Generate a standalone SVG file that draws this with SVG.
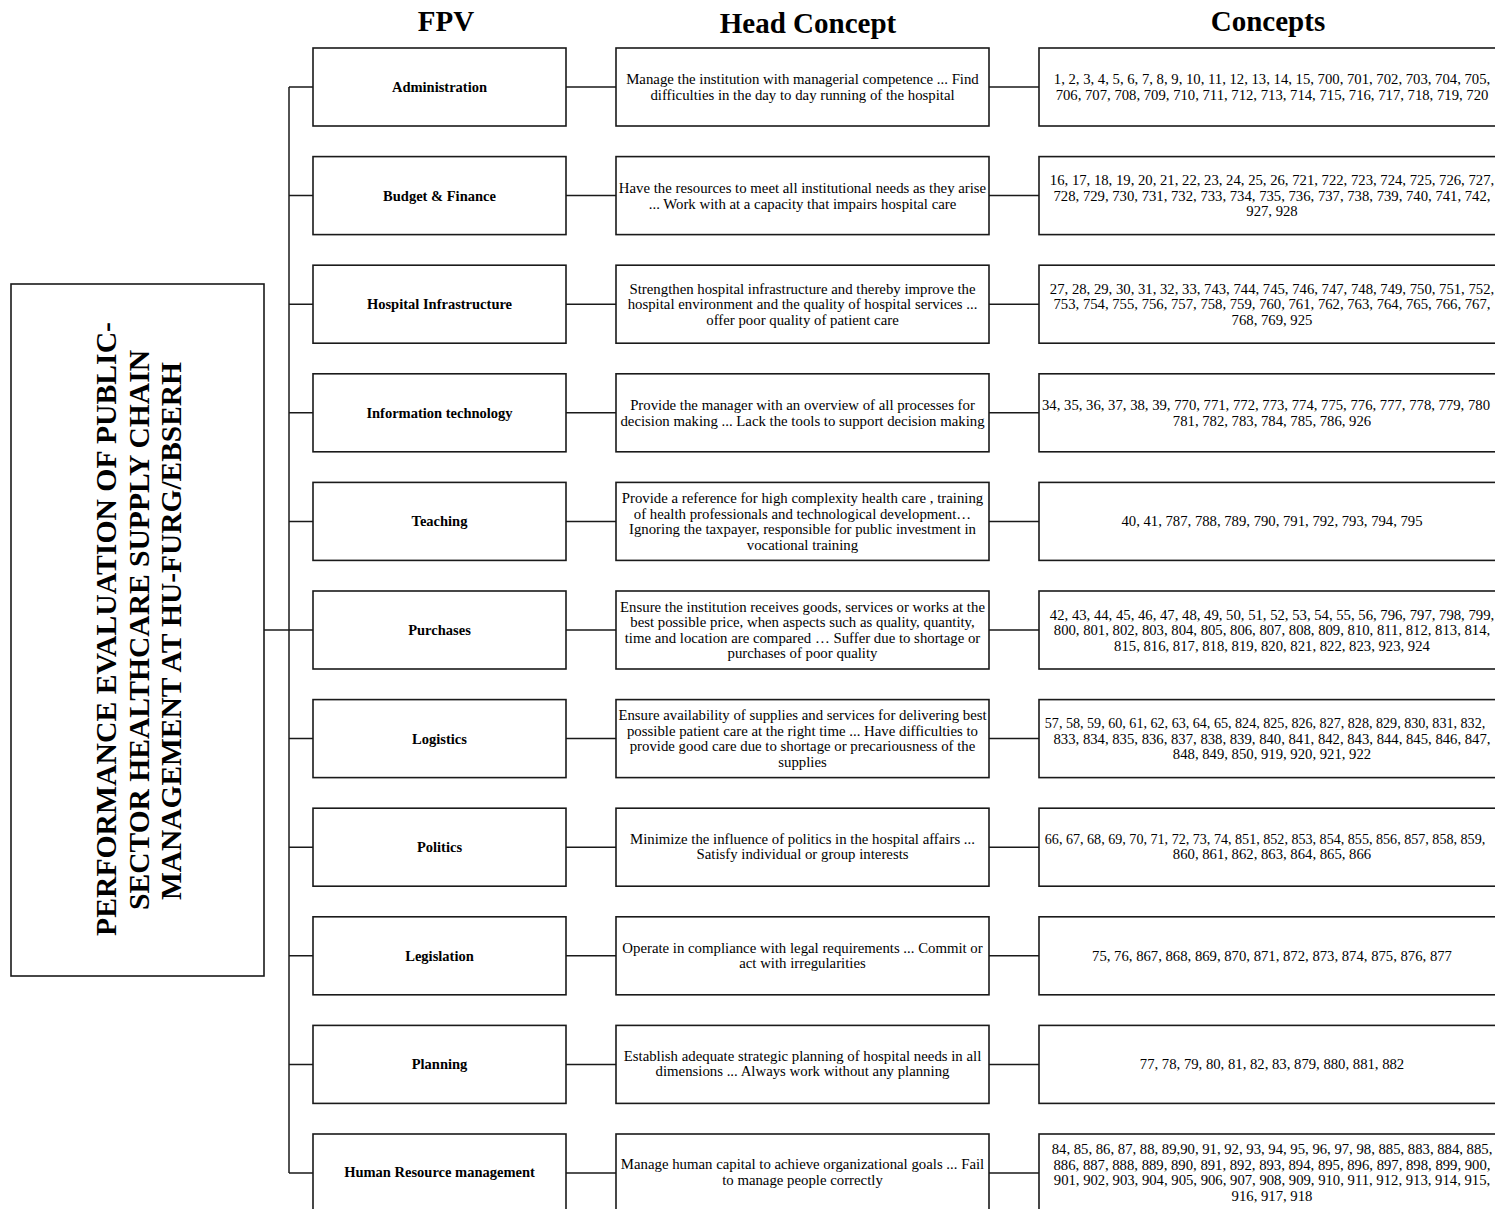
<svg xmlns="http://www.w3.org/2000/svg" width="1495" height="1209" viewBox="0 0 1495 1209">
  <style>
    .box { fill: #ffffff; stroke: #1a1a1a; stroke-width: 1.6; }
    .wire { fill: none; stroke: #1a1a1a; stroke-width: 1.5; }
    .hdr { font-family: "Liberation Serif", "Times New Roman", serif; font-weight: bold; font-size: 29px; fill: #000; text-anchor: middle; }
    .title { font-family: "Liberation Serif", "Times New Roman", serif; font-weight: bold; font-size: 29px; fill: #000; text-anchor: middle; }
    .fpv { font-family: "Liberation Serif", "Times New Roman", serif; font-weight: bold; font-size: 14.5px; fill: #000; text-anchor: middle; }
    .hc { font-family: "Liberation Serif", "Times New Roman", serif; font-size: 14.8px; fill: #000; text-anchor: middle; }
    .cc { font-family: "Liberation Serif", "Times New Roman", serif; font-size: 14.7px; fill: #000; text-anchor: middle; }
    .cc.tight { font-size: 14.1px; }
  </style>
  <rect width="1495" height="1209" fill="#ffffff"/>

  <!-- column headings -->
  <g id="headings">
    <text class="hdr" x="446" y="31">FPV</text>
    <text class="hdr" x="808" y="33">Head Concept</text>
    <text class="hdr" x="1268" y="31">Concepts</text>
  </g>

  <!-- connectors: trunk, branches and row links -->
  <g id="connectors">
    <line class="wire" x1="264" y1="630" x2="289" y2="630" stroke-width="2.2"/>
    <line class="wire" x1="289" y1="87" x2="289" y2="1173"/>
    <path class="wire" d="M289 87H313M289 195.6H313M289 304.2H313M289 412.8H313M289 521.4H313M289 630H313M289 738.6H313M289 847.2H313M289 955.8H313M289 1064.4H313M289 1173H313"/>
    <path class="wire" d="M566 87H616M566 195.6H616M566 304.2H616M566 412.8H616M566 521.4H616M566 630H616M566 738.6H616M566 847.2H616M566 955.8H616M566 1064.4H616M566 1173H616"/>
    <path class="wire" d="M989 87H1039M989 195.6H1039M989 304.2H1039M989 412.8H1039M989 521.4H1039M989 630H1039M989 738.6H1039M989 847.2H1039M989 955.8H1039M989 1064.4H1039M989 1173H1039"/>
  </g>

  <!-- root node -->
  <g id="root">
    <rect class="box" x="11" y="284" width="253" height="692"/>
    <text class="title" transform="translate(116,629) rotate(-90)" textLength="614" lengthAdjust="spacingAndGlyphs">PERFORMANCE EVALUATION OF PUBLIC-</text>
    <text class="title" transform="translate(149,630) rotate(-90)" textLength="560" lengthAdjust="spacingAndGlyphs">SECTOR HEALTHCARE SUPPLY CHAIN</text>
    <text class="title" transform="translate(181,631) rotate(-90)" textLength="538" lengthAdjust="spacingAndGlyphs">MANAGEMENT AT HU-FURG/EBSERH</text>
  </g>

  <!-- row 1 -->
  <g id="fpv-administration">
    <rect class="box" x="313" y="48" width="253" height="78"/>
    <text class="fpv" x="439.5" y="92">Administration</text>
  </g>
  <g id="hc-administration">
    <rect class="box" x="616" y="48" width="373" height="78"/>
    <text class="hc" x="802.5" y="84">Manage the institution with managerial competence ... Find</text>
    <text class="hc" x="802.5" y="100">difficulties in the day to day running of the hospital</text>
  </g>
  <g id="cc-administration">
    <rect class="box" x="1039" y="48" width="466" height="78"/>
    <text class="cc" x="1272" y="84">1, 2, 3, 4, 5, 6, 7, 8, 9, 10, 11, 12, 13, 14, 15, 700, 701, 702, 703, 704, 705,</text>
    <text class="cc" x="1272" y="100">706, 707, 708, 709, 710, 711, 712, 713, 714, 715, 716, 717, 718, 719, 720</text>
  </g>

  <!-- row 2 -->
  <g id="fpv-budget">
    <rect class="box" x="313" y="156.6" width="253" height="78"/>
    <text class="fpv" x="439.5" y="200.6">Budget &amp; Finance</text>
  </g>
  <g id="hc-budget">
    <rect class="box" x="616" y="156.6" width="373" height="78"/>
    <text class="hc" x="802.5" y="192.6">Have the resources to meet all institutional needs as they arise</text>
    <text class="hc" x="802.5" y="208.6">... Work with at a capacity that impairs hospital care</text>
  </g>
  <g id="cc-budget">
    <rect class="box" x="1039" y="156.6" width="466" height="78"/>
    <text class="cc" x="1272" y="185">16, 17, 18, 19, 20, 21, 22, 23, 24, 25, 26, 721, 722, 723, 724, 725, 726, 727,</text>
    <text class="cc" x="1272" y="200.5">728, 729, 730, 731, 732, 733, 734, 735, 736, 737, 738, 739, 740, 741, 742,</text>
    <text class="cc" x="1272" y="216">927, 928</text>
  </g>

  <!-- row 3 -->
  <g id="fpv-infrastructure">
    <rect class="box" x="313" y="265.2" width="253" height="78"/>
    <text class="fpv" x="439.5" y="309.2">Hospital Infrastructure</text>
  </g>
  <g id="hc-infrastructure">
    <rect class="box" x="616" y="265.2" width="373" height="78"/>
    <text class="hc" x="802.5" y="293.7">Strengthen hospital infrastructure and thereby improve the</text>
    <text class="hc" x="802.5" y="309.2">hospital environment and the quality of hospital services ...</text>
    <text class="hc" x="802.5" y="324.7">offer poor quality of patient care</text>
  </g>
  <g id="cc-infrastructure">
    <rect class="box" x="1039" y="265.2" width="466" height="78"/>
    <text class="cc" x="1272" y="293.7">27, 28, 29, 30, 31, 32, 33, 743, 744, 745, 746, 747, 748, 749, 750, 751, 752,</text>
    <text class="cc" x="1272" y="309.2">753, 754, 755, 756, 757, 758, 759, 760, 761, 762, 763, 764, 765, 766, 767,</text>
    <text class="cc" x="1272" y="324.7">768, 769, 925</text>
  </g>

  <!-- row 4 -->
  <g id="fpv-it">
    <rect class="box" x="313" y="373.8" width="253" height="78"/>
    <text class="fpv" x="439.5" y="417.8">Information technology</text>
  </g>
  <g id="hc-it">
    <rect class="box" x="616" y="373.8" width="373" height="78"/>
    <text class="hc" x="802.5" y="410">Provide the manager with an overview of all processes for</text>
    <text class="hc" x="802.5" y="425.5">decision making ... Lack the tools to support decision making</text>
  </g>
  <g id="cc-it">
    <rect class="box" x="1039" y="373.8" width="466" height="78"/>
    <text class="cc" x="1266" y="410">34, 35, 36, 37, 38, 39, 770, 771, 772, 773, 774, 775, 776, 777, 778, 779, 780</text>
    <text class="cc" x="1272" y="425.5">781, 782, 783, 784, 785, 786, 926</text>
  </g>

  <!-- row 5 -->
  <g id="fpv-teaching">
    <rect class="box" x="313" y="482.4" width="253" height="78"/>
    <text class="fpv" x="439.5" y="526.4">Teaching</text>
  </g>
  <g id="hc-teaching">
    <rect class="box" x="616" y="482.4" width="373" height="78"/>
    <text class="hc" x="802.5" y="503">Provide a reference for high complexity health care , training</text>
    <text class="hc" x="802.5" y="518.5">of health professionals and technological development…</text>
    <text class="hc" x="802.5" y="534">Ignoring the taxpayer, responsible for public investment in</text>
    <text class="hc" x="802.5" y="549.5">vocational training</text>
  </g>
  <g id="cc-teaching">
    <rect class="box" x="1039" y="482.4" width="466" height="78"/>
    <text class="cc" x="1272" y="526.4">40, 41, 787, 788, 789, 790, 791, 792, 793, 794, 795</text>
  </g>

  <!-- row 6 -->
  <g id="fpv-purchases">
    <rect class="box" x="313" y="591" width="253" height="78"/>
    <text class="fpv" x="439.5" y="635">Purchases</text>
  </g>
  <g id="hc-purchases">
    <rect class="box" x="616" y="591" width="373" height="78"/>
    <text class="hc" x="802.5" y="611.6">Ensure the institution receives goods, services or works at the</text>
    <text class="hc" x="802.5" y="627.1">best possible price, when aspects such as quality, quantity,</text>
    <text class="hc" x="802.5" y="642.6">time and location are compared … Suffer due to shortage or</text>
    <text class="hc" x="802.5" y="658.1">purchases of poor quality</text>
  </g>
  <g id="cc-purchases">
    <rect class="box" x="1039" y="591" width="466" height="78"/>
    <text class="cc" x="1272" y="619.5">42, 43, 44, 45, 46, 47, 48, 49, 50, 51, 52, 53, 54, 55, 56, 796, 797, 798, 799,</text>
    <text class="cc" x="1272" y="635">800, 801, 802, 803, 804, 805, 806, 807, 808, 809, 810, 811, 812, 813, 814,</text>
    <text class="cc" x="1272" y="650.5">815, 816, 817, 818, 819, 820, 821, 822, 823, 923, 924</text>
  </g>

  <!-- row 7 -->
  <g id="fpv-logistics">
    <rect class="box" x="313" y="699.6" width="253" height="78"/>
    <text class="fpv" x="439.5" y="743.6">Logistics</text>
  </g>
  <g id="hc-logistics">
    <rect class="box" x="616" y="699.6" width="373" height="78"/>
    <text class="hc" x="802.5" y="720.2">Ensure availability of supplies and services for delivering best</text>
    <text class="hc" x="802.5" y="735.7">possible patient care at the right time ... Have difficulties to</text>
    <text class="hc" x="802.5" y="751.2">provide good care due to shortage or precariousness of the</text>
    <text class="hc" x="802.5" y="766.7">supplies</text>
  </g>
  <g id="cc-logistics">
    <rect class="box" x="1039" y="699.6" width="466" height="78"/>
    <text class="cc tight" x="1265" y="728.1">57, 58, 59, 60, 61, 62, 63, 64, 65, 824, 825, 826, 827, 828, 829, 830, 831, 832,</text>
    <text class="cc" x="1272" y="743.6">833, 834, 835, 836, 837, 838, 839, 840, 841, 842, 843, 844, 845, 846, 847,</text>
    <text class="cc" x="1272" y="759.1">848, 849, 850, 919, 920, 921, 922</text>
  </g>

  <!-- row 8 -->
  <g id="fpv-politics">
    <rect class="box" x="313" y="808.2" width="253" height="78"/>
    <text class="fpv" x="439.5" y="852.2">Politics</text>
  </g>
  <g id="hc-politics">
    <rect class="box" x="616" y="808.2" width="373" height="78"/>
    <text class="hc" x="802.5" y="843.5">Minimize the influence of politics in the hospital affairs ...</text>
    <text class="hc" x="802.5" y="859">Satisfy individual or group interests</text>
  </g>
  <g id="cc-politics">
    <rect class="box" x="1039" y="808.2" width="466" height="78"/>
    <text class="cc tight" x="1265" y="843.5">66, 67, 68, 69, 70, 71, 72, 73, 74, 851, 852, 853, 854, 855, 856, 857, 858, 859,</text>
    <text class="cc" x="1272" y="859">860, 861, 862, 863, 864, 865, 866</text>
  </g>

  <!-- row 9 -->
  <g id="fpv-legislation">
    <rect class="box" x="313" y="916.8" width="253" height="78"/>
    <text class="fpv" x="439.5" y="960.8">Legislation</text>
  </g>
  <g id="hc-legislation">
    <rect class="box" x="616" y="916.8" width="373" height="78"/>
    <text class="hc" x="802.5" y="952.5">Operate in compliance with legal requirements ... Commit or</text>
    <text class="hc" x="802.5" y="968">act with irregularities</text>
  </g>
  <g id="cc-legislation">
    <rect class="box" x="1039" y="916.8" width="466" height="78"/>
    <text class="cc" x="1272" y="960.8">75, 76, 867, 868, 869, 870, 871, 872, 873, 874, 875, 876, 877</text>
  </g>

  <!-- row 10 -->
  <g id="fpv-planning">
    <rect class="box" x="313" y="1025.4" width="253" height="78"/>
    <text class="fpv" x="439.5" y="1069.4">Planning</text>
  </g>
  <g id="hc-planning">
    <rect class="box" x="616" y="1025.4" width="373" height="78"/>
    <text class="hc" x="802.5" y="1060.5">Establish adequate strategic planning of hospital needs in all</text>
    <text class="hc" x="802.5" y="1076">dimensions ... Always work without any planning</text>
  </g>
  <g id="cc-planning">
    <rect class="box" x="1039" y="1025.4" width="466" height="78"/>
    <text class="cc" x="1272" y="1069.4">77, 78, 79, 80, 81, 82, 83, 879, 880, 881, 882</text>
  </g>

  <!-- row 11 -->
  <g id="fpv-hr">
    <rect class="box" x="313" y="1134" width="253" height="78"/>
    <text class="fpv" x="439.5" y="1177">Human Resource management</text>
  </g>
  <g id="hc-hr">
    <rect class="box" x="616" y="1134" width="373" height="78"/>
    <text class="hc" x="802.5" y="1169">Manage human capital to achieve organizational goals ... Fail</text>
    <text class="hc" x="802.5" y="1184.5">to manage people correctly</text>
  </g>
  <g id="cc-hr">
    <rect class="box" x="1039" y="1134" width="466" height="78"/>
    <text class="cc" x="1272" y="1154">84, 85, 86, 87, 88, 89,90, 91, 92, 93, 94, 95, 96, 97, 98, 885, 883, 884, 885,</text>
    <text class="cc" x="1272" y="1169.5">886, 887, 888, 889, 890, 891, 892, 893, 894, 895, 896, 897, 898, 899, 900,</text>
    <text class="cc" x="1272" y="1185">901, 902, 903, 904, 905, 906, 907, 908, 909, 910, 911, 912, 913, 914, 915,</text>
    <text class="cc" x="1272" y="1200.5">916, 917, 918</text>
  </g>
</svg>
